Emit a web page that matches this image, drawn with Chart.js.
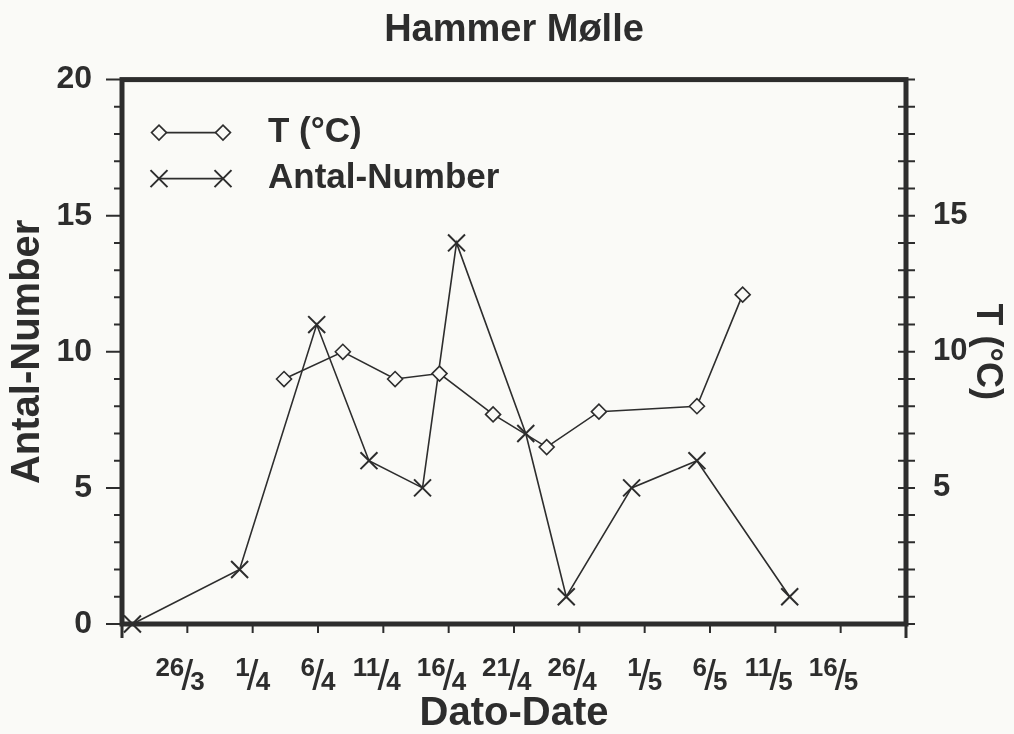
<!DOCTYPE html>
<html>
<head>
<meta charset="utf-8">
<script src="https://cdn.jsdelivr.net/npm/chart.js@4.4.1/dist/chart.umd.min.js"></script>
<style>
html, body { margin: 0; padding: 0; background: #fafaf7; }
#wrap { width: 1014px; height: 734px; }
</style>
</head>
<body>
<div id="wrap"><canvas id="chart"></canvas></div>
<script>
// x values are positions on the date axis in days (0 = 21/3, one tick = 5 days)
var antalDays = [0.8, 9, 14.9, 18.9, 23, 25.6, 30.9, 34, 39, 44, 51.1];
var antalNumber = [0, 2, 11, 6, 5, 14, 7, 1, 5, 6, 1];
var tempDays = [12.4, 16.9, 20.9, 24.3, 28.4, 32.5, 36.5, 44, 47.5];
var tempC = [9, 10, 9, 9.2, 7.7, 6.5, 7.8, 8, 12.1];

var dateTicks = [5, 10, 15, 20, 25, 30, 35, 40, 45, 50, 55];
var dateLabels = ['26/3', '1/4', '6/4', '11/4', '16/4', '21/4', '26/4', '1/5', '6/5', '11/5', '16/5'];
var leftLabels = [0, 5, 10, 15, 20];
var rightLabels = [5, 10, 15];

var ink = '#2d2d2d';
var fam = "'Liberation Sans', Arial, sans-serif";

function xy(xs, ys) {
    var out = [];
    for (var i = 0; i < xs.length; i++) {
        out.push({x: xs[i], y: ys[i]});
    }
    return out;
}

function marker(ctx, style, r, x, y) {
    ctx.beginPath();
    if (style == 'rectRot') {
        ctx.moveTo(x - r, y); ctx.lineTo(x, y - r); ctx.lineTo(x + r, y); ctx.lineTo(x, y + r);
        ctx.closePath();
        ctx.fill();
    } else {
        var d = r * Math.SQRT1_2;
        ctx.moveTo(x - d, y - d); ctx.lineTo(x + d, y + d);
        ctx.moveTo(x + d, y - d); ctx.lineTo(x - d, y + d);
    }
    ctx.stroke();
}

var framePlugin = {
    id: 'frame',
    beforeDraw: function(chart) {
        var ctx = chart.ctx;
        ctx.save();
        ctx.fillStyle = '#fafaf7';
        ctx.fillRect(0, 0, chart.width, chart.height);
        ctx.restore();
    },
    beforeDatasetsDraw: function(chart) {
        var a = chart.chartArea, ctx = chart.ctx;
        var ys = chart.scales.y, ys1 = chart.scales.y1, xs = chart.scales.x;
        ctx.save();
        ctx.strokeStyle = ink;
        ctx.lineWidth = 2;
        ctx.beginPath();
        for (var v = 0; v <= 20; v++) {
            var py = ys.getPixelForValue(v);
            var len = (v % 5 == 0) ? 16 : 8;
            ctx.moveTo(a.left - len, py); ctx.lineTo(a.left, py);
            var py1 = ys1.getPixelForValue(v);
            ctx.moveTo(a.right - 8, py1); ctx.lineTo(a.right + 9, py1);
        }
        for (var i = 0; i < dateTicks.length; i++) {
            var px = xs.getPixelForValue(dateTicks[i]);
            ctx.moveTo(px, a.bottom); ctx.lineTo(px, a.bottom + 9);
        }
        ctx.stroke();
        ctx.lineWidth = 3;
        ctx.beginPath();
        ctx.moveTo(a.left, a.bottom); ctx.lineTo(a.left, a.bottom + 14);
        ctx.moveTo(a.right, a.bottom); ctx.lineTo(a.right, a.bottom + 14);
        ctx.stroke();
        ctx.lineWidth = 5;
        ctx.strokeRect(a.left, a.top, a.right - a.left, a.bottom - a.top);
        ctx.restore();
    },
    afterDraw: function(chart) {
        var a = chart.chartArea, ctx = chart.ctx, xs = chart.scales.x;
        ctx.save();
        ctx.fillStyle = ink;
        // date labels written as fractions
        for (var i = 0; i < dateTicks.length; i++) {
            var px = xs.getPixelForValue(dateTicks[i]);
            var parts = dateLabels[i].split('/');
            ctx.font = 'bold 26px ' + fam;
            ctx.textBaseline = 'alphabetic';
            ctx.textAlign = 'right';
            ctx.fillText(parts[0], px - 3, a.bottom + 52);
            ctx.textAlign = 'left';
            ctx.fillText(parts[1], px + 3, a.bottom + 66);
            ctx.font = '42px ' + fam;
            ctx.textAlign = 'center';
            ctx.fillText('/', px, a.bottom + 66);
        }
        // legend
        var ds = chart.data.datasets;
        var rows = [a.top + 53, a.top + 99];
        for (var k = 0; k < ds.length; k++) {
            var y = rows[k];
            ctx.strokeStyle = ink;
            ctx.lineWidth = 1.6;
            ctx.beginPath();
            ctx.moveTo(a.left + 37, y); ctx.lineTo(a.left + 101, y);
            ctx.stroke();
            ctx.fillStyle = '#fafaf7';
            ctx.lineWidth = ds[k].pointBorderWidth;
            marker(ctx, ds[k].pointStyle, ds[k].pointRadius, a.left + 37, y);
            marker(ctx, ds[k].pointStyle, ds[k].pointRadius, a.left + 101, y);
            ctx.fillStyle = ink;
            ctx.font = 'bold 35px ' + fam;
            ctx.textAlign = 'left';
            ctx.textBaseline = 'middle';
            ctx.fillText(ds[k].label, a.left + 146, y);
        }
        ctx.restore();
    }
};

var ctx = document.getElementById('chart').getContext('2d');
var myChart = new Chart(ctx, {
    type: 'line',
    data: {
        datasets: [{
            label: 'T (°C)',
            data: xy(tempDays, tempC),
            yAxisID: 'y1',
            borderColor: ink,
            borderWidth: 1.6,
            pointStyle: 'rectRot',
            pointRadius: 7.5,
            pointBorderWidth: 1.6,
            pointBackgroundColor: '#fafaf7',
            pointBorderColor: ink,
            clip: false
        }, {
            label: 'Antal-Number',
            data: xy(antalDays, antalNumber),
            yAxisID: 'y',
            borderColor: ink,
            borderWidth: 1.6,
            pointStyle: 'crossRot',
            pointRadius: 12,
            pointBorderWidth: 2,
            pointBorderColor: ink,
            clip: false
        }]
    },
    options: {
        responsive: true,
        maintainAspectRatio: false,
        animation: false,
        events: [],
        layout: {padding: 0},
        plugins: {
            legend: {display: false},
            tooltip: {enabled: false},
            title: {
                display: true,
                text: 'Hammer Mølle',
                fullSize: false,
                color: ink,
                font: {family: fam, size: 38, weight: 'bold'},
                padding: {top: 8, bottom: 26}
            }
        },
        scales: {
            x: {
                type: 'linear',
                position: 'bottom',
                min: 0,
                max: 60,
                ticks: {display: false, stepSize: 5},
                grid: {display: false},
                border: {display: false},
                title: {
                    display: true,
                    text: 'Dato-Date',
                    color: ink,
                    font: {family: fam, size: 40, weight: 'bold', lineHeight: 1.0},
                    padding: {top: 0, bottom: 0}
                },
                afterFit: function(s) { s.height = 110; }
            },
            y: {
                position: 'left',
                min: 0,
                max: 20,
                ticks: {
                    stepSize: 5,
                    color: ink,
                    padding: 22,
                    font: {family: fam, size: 32, weight: 'bold'},
                    callback: function(v) { return leftLabels.indexOf(v) >= 0 ? String(v) : ''; }
                },
                grid: {display: false},
                border: {display: false},
                title: {
                    display: true,
                    text: 'Antal-Number',
                    color: ink,
                    font: {family: fam, size: 40, weight: 'bold'},
                    padding: {top: 4, bottom: 0}
                },
                afterFit: function(s) { s.width = 122; }
            },
            y1: {
                position: 'right',
                min: 0,
                max: 20,
                ticks: {
                    stepSize: 5,
                    color: ink,
                    padding: 19,
                    font: {family: fam, size: 31, weight: 'bold'},
                    callback: function(v) { return rightLabels.indexOf(v) >= 0 ? String(v) : ''; }
                },
                grid: {display: false},
                border: {display: false},
                title: {
                    display: true,
                    text: 'T (°C)',
                    color: ink,
                    font: {family: fam, size: 36, weight: 'bold'},
                    padding: {top: 5, bottom: 0}
                },
                afterFit: function(s) { s.width = 108; }
            }
        }
    },
    plugins: [framePlugin]
});
</script>
</body>
</html>
